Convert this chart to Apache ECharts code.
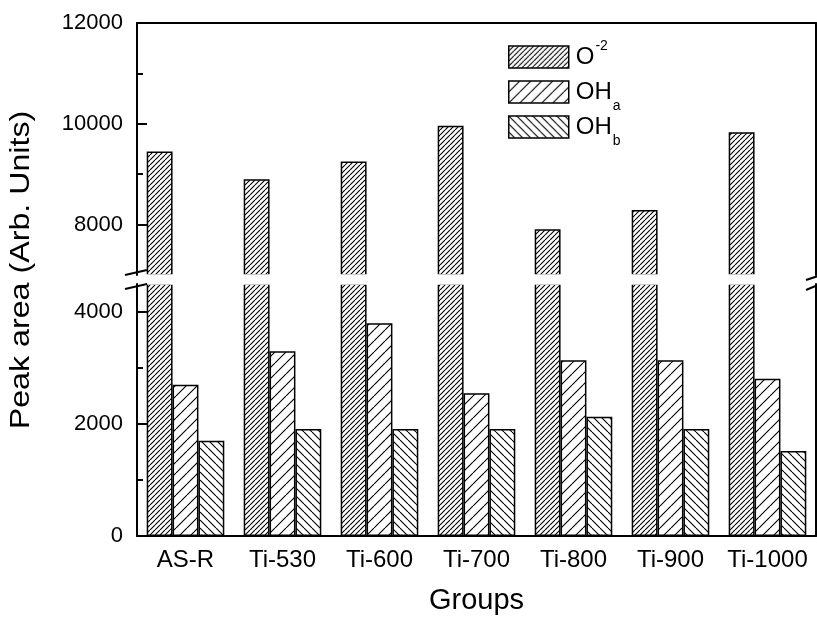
<!DOCTYPE html>
<html><head><meta charset="utf-8">
<script src="https://cdn.jsdelivr.net/npm/echarts@6/dist/echarts.min.js"></script>
<style>html,body{margin:0;padding:0;background:#fff}#c{width:817px;height:622px}</style>
</head><body><div id="c"></div>
<script>
const categories = ['AS-R', 'Ti-530', 'Ti-600', 'Ti-700', 'Ti-800', 'Ti-900', 'Ti-1000'];
const o2Values = [9450, 8900, 9250, 9960, 7910, 8290, 9830];
const ohaValues = [2700, 3300, 3800, 2550, 3140, 3140, 2810];
const ohbValues = [1700, 1910, 1910, 1910, 2130, 1910, 1520];
const seriesNames = ['O-2', 'OHa', 'OHb'];
const upperRange = [7000, 12000];
const lowerRange = [0, 4500];
const upperLabelTicks = [8000, 10000, 12000];
const upperMinorTicks = [9000, 11000];
const lowerLabelTicks = [0, 2000, 4000];
const lowerMinorTicks = [1000, 3000];

const FONT = 'Liberation Sans, Arial, sans-serif';

function hatch(size, dir, lw) {
  const c = document.createElement('canvas');
  c.width = size; c.height = size;
  const g = c.getContext('2d');
  g.fillStyle = '#fff'; g.fillRect(0, 0, size, size);
  g.strokeStyle = '#000'; g.lineWidth = lw;
  g.beginPath();
  for (let k = -1; k <= 1; k++) {
    if (dir > 0) { g.moveTo(k * size, size); g.lineTo(k * size + size, 0); }
    else { g.moveTo(k * size, 0); g.lineTo(k * size + size, size); }
  }
  g.stroke();
  return { image: c, repeat: 'repeat' };
}
const patO2 = hatch(5, 1, 1.1);
const patA = hatch(11, 1, 1.1);
const patB = hatch(8, -1, 1.1);

const barStyle = (p) => ({ color: p, borderColor: '#000', borderWidth: 1.5 });
const axisLineStyle = { color: '#000', width: 2 };

function yMajor(grid, range, ticks) {
  return {
    type: 'value', gridIndex: grid, min: range[0], max: range[1], position: 'left',
    axisLine: { show: true, lineStyle: axisLineStyle },
    axisTick: { show: true, inside: true, length: 10, customValues: ticks, lineStyle: axisLineStyle },
    axisLabel: { show: true, customValues: ticks, fontSize: 22, color: '#000', margin: 14, fontFamily: FONT,
      formatter: (v) => String(v) },
    splitLine: { show: false }
  };
}
function yMinor(grid, range, ticks) {
  return {
    type: 'value', gridIndex: grid, min: range[0], max: range[1], position: 'left',
    axisLine: { show: false },
    axisTick: { show: true, inside: true, length: 6, customValues: ticks, lineStyle: axisLineStyle },
    axisLabel: { show: false }, splitLine: { show: false }
  };
}
function yRight(grid, range) {
  return {
    type: 'value', gridIndex: grid, min: range[0], max: range[1], position: 'right',
    axisLine: { show: true, lineStyle: axisLineStyle },
    axisTick: { show: false }, axisLabel: { show: false }, splitLine: { show: false }
  };
}

const chart = echarts.init(document.getElementById('c'), null, { renderer: 'canvas' });
const commonBar = { type: 'bar', barGap: 0, barCategoryGap: '20%', emphasis: { disabled: true } };

chart.setOption({
  animation: false,
  backgroundColor: '#fff',
  grid: [
    { left: 137, right: 1, top: 23, height: 252 },
    { left: 137, right: 1, top: 284, height: 252 }
  ],
  xAxis: [
    { type: 'category', gridIndex: 0, data: categories, position: 'top',
      axisLine: { show: true, lineStyle: axisLineStyle }, axisTick: { show: false }, axisLabel: { show: false } },
    { type: 'category', gridIndex: 1, data: categories, position: 'bottom',
      axisLine: { show: true, lineStyle: axisLineStyle }, axisTick: { show: false },
      axisLabel: { interval: 0, fontSize: 24, color: '#000', margin: 12, fontFamily: FONT },
      name: 'Groups', nameLocation: 'middle', nameGap: 50,
      nameTextStyle: { fontSize: 29, color: '#000', fontFamily: FONT } }
  ],
  yAxis: [
    yMajor(0, upperRange, upperLabelTicks), yMinor(0, upperRange, upperMinorTicks), yRight(0, upperRange),
    yMajor(1, lowerRange, lowerLabelTicks), yMinor(1, lowerRange, lowerMinorTicks), yRight(1, lowerRange)
  ],
  legend: {
    data: seriesNames, left: 508, top: 36, orient: 'vertical', padding: 0,
    itemWidth: 60, itemHeight: 22, itemGap: -7, icon: 'rect',
    itemStyle: { borderColor: '#000', borderWidth: 1.5 },
    selectedMode: false,
    formatter: function (n) {
      if (n === 'O-2') return '{m|O}{sup|-2}';
      if (n === 'OHa') return '{m|OH}{sub|a}';
      return '{m|OH}{sub|b}';
    },
    textStyle: {
      color: '#000', fontFamily: FONT, fontSize: 24, padding: [0, 0, 0, 2],
      rich: {
        m: { fontSize: 24, lineHeight: 24, fontFamily: FONT, color: '#000' },
        sup: { fontSize: 14, lineHeight: 24, padding: [3, 0, 25, 1], fontFamily: FONT, color: '#000' },
        sub: { fontSize: 14, lineHeight: 24, padding: [28, 0, 0, 1], fontFamily: FONT, color: '#000' }
      }
    }
  },
  series: [
    Object.assign({}, commonBar, { name: 'O-2', xAxisIndex: 0, yAxisIndex: 0, data: o2Values, itemStyle: barStyle(patO2) }),
    Object.assign({}, commonBar, { name: 'upper-slot-a', xAxisIndex: 0, yAxisIndex: 0, data: [], itemStyle: barStyle(patA) }),
    Object.assign({}, commonBar, { name: 'upper-slot-b', xAxisIndex: 0, yAxisIndex: 0, data: [], itemStyle: barStyle(patB) }),
    Object.assign({}, commonBar, { name: 'O-2', xAxisIndex: 1, yAxisIndex: 3, data: o2Values, itemStyle: barStyle(patO2) }),
    Object.assign({}, commonBar, { name: 'OHa', xAxisIndex: 1, yAxisIndex: 3, data: ohaValues, itemStyle: barStyle(patA) }),
    Object.assign({}, commonBar, { name: 'OHb', xAxisIndex: 1, yAxisIndex: 3, data: ohbValues, itemStyle: barStyle(patB) })
  ],
  graphic: [
    { type: 'rect', z: 100, shape: { x: 138, y: 274.3, width: 677, height: 10.4 }, style: { fill: '#fff' } },
    { type: 'line', z: 101, shape: { x1: 125, y1: 275, x2: 147, y2: 270 }, style: { stroke: '#000', lineWidth: 2 } },
    { type: 'line', z: 101, shape: { x1: 125, y1: 289, x2: 147, y2: 284 }, style: { stroke: '#000', lineWidth: 2 } },
    { type: 'line', z: 101, shape: { x1: 806, y1: 280, x2: 818, y2: 276 }, style: { stroke: '#000', lineWidth: 2 } },
    { type: 'line', z: 101, shape: { x1: 806, y1: 290, x2: 818, y2: 285 }, style: { stroke: '#000', lineWidth: 2 } },
    { type: 'text', z: 101, x: 21, y: 270, rotation: Math.PI / 2, scaleX: 1.15,
      style: { text: 'Peak area (Arb. Units)', fontSize: 28, fontFamily: FONT, fill: '#000', align: 'center', verticalAlign: 'middle' } }
  ]
});
</script>
</body></html>
